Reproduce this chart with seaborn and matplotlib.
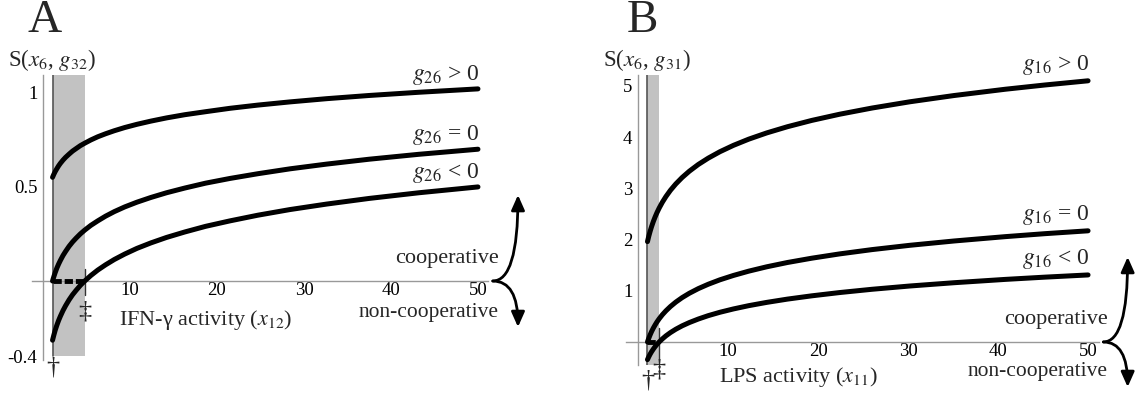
import numpy as np
import pandas as pd
import matplotlib
matplotlib.use("Agg")
import matplotlib.pyplot as plt
import seaborn as sns
from matplotlib.ticker import FixedLocator, FixedFormatter, MultipleLocator

# ---------------- Panel A data ----------------
xA = [1.1, 1.25, 1.4, 1.6, 1.8, 2.0, 2.3, 2.6, 3.0, 3.4, 3.8, 4.3, 4.8, 5.5, 6.3, 7.2,
      8.2, 9.4, 10.8, 12.4, 14.2, 16.3, 18.7, 21.5, 24.7, 28.4, 32.6, 37.5, 43.2, 50]
sA_pos = [0.550, 0.566, 0.580, 0.596, 0.611, 0.624, 0.641, 0.656, 0.673, 0.689, 0.702,
          0.718, 0.731, 0.748, 0.765, 0.781, 0.797, 0.814, 0.831, 0.848, 0.865, 0.882,
          0.898, 0.916, 0.933, 0.950, 0.967, 0.984, 1.001, 1.019]
sA_zero = [0.0, 0.023, 0.044, 0.069, 0.090, 0.109, 0.135, 0.157, 0.184, 0.207, 0.227,
           0.250, 0.270, 0.295, 0.319, 0.344, 0.368, 0.393, 0.418, 0.443, 0.468, 0.493,
           0.519, 0.544, 0.569, 0.595, 0.620, 0.646, 0.672, 0.699]
sA_neg = [-0.314, -0.287, -0.262, -0.234, -0.209, -0.187, -0.157, -0.131, -0.100, -0.073,
          -0.050, -0.023, 0.0, 0.029, 0.058, 0.086, 0.114, 0.143, 0.173, 0.202, 0.231,
          0.260, 0.290, 0.319, 0.349, 0.379, 0.408, 0.438, 0.468, 0.499]
A_series = ["$g_{26}$ > 0", "$g_{26}$ = 0", "$g_{26}$ < 0"]
A_dagger, A_ddagger = 1.1, 4.8
A_yticks = [-0.4, 0.5, 1]
A_yticklabels = ["-0.4", "0.5", "1"]
A_xlabel = "IFN-γ activity ($x_{12}$)"
A_ylabel = "S($x_6$, $g_{32}$)"

# ---------------- Panel B data ----------------
xB = [1.05, 1.2, 1.35, 1.5, 1.7, 1.9, 2.1, 2.35, 2.7, 3.1, 3.6, 4.2, 4.9, 5.7, 6.7, 7.8,
      9.1, 10.6, 12.3, 14.3, 16.6, 19.3, 22.4, 26, 30.2, 35.1, 40.8, 45.2, 50]
sB_pos = [1.960, 2.069, 2.164, 2.250, 2.352, 2.442, 2.524, 2.615, 2.728, 2.840, 2.962,
          3.087, 3.212, 3.335, 3.467, 3.590, 3.716, 3.840, 3.961, 4.083, 4.204, 4.327,
          4.448, 4.569, 4.691, 4.813, 4.936, 5.019, 5.101]
sB_zero = [0.0, 0.075, 0.141, 0.201, 0.271, 0.333, 0.390, 0.453, 0.531, 0.608, 0.692,
           0.779, 0.866, 0.951, 1.042, 1.127, 1.214, 1.299, 1.383, 1.468, 1.552, 1.636,
           1.720, 1.804, 1.888, 1.972, 2.057, 2.115, 2.171]
sB_neg = [-0.345, -0.288, -0.237, -0.192, -0.139, -0.091, -0.048, 0.0, 0.059, 0.119,
          0.183, 0.249, 0.315, 0.379, 0.448, 0.514, 0.580, 0.645, 0.709, 0.773, 0.837,
          0.901, 0.965, 1.029, 1.093, 1.157, 1.222, 1.266, 1.309]
B_series = ["$g_{16}$ > 0", "$g_{16}$ = 0", "$g_{16}$ < 0"]
B_dagger, B_ddagger = 1.05, 2.35
B_yticks = [1, 2, 3, 4, 5]
B_yticklabels = ["1", "2", "3", "4", "5"]
B_xlabel = "LPS activity ($x_{11}$)"
B_ylabel = "S($x_6$, $g_{31}$)"

xticks = [10, 20, 30, 40, 50]
xticklabels = ["10", "20", "30", "40", "50"]

sns.set_style("white")
plt.rcParams["font.family"] = ["Liberation Serif", "DejaVu Serif"]
plt.rcParams["mathtext.fontset"] = "stix"
plt.rcParams["axes.unicode_minus"] = False

fig = plt.figure(figsize=(11.36, 3.94), dpi=100)
axA = fig.add_axes([0.02817, 0.0858, 0.4010, 0.7226])
axB = fig.add_axes([0.5511, 0.0736, 0.4162, 0.7355])

AXC = "#999999"


def panel(ax, x, ys, names, x0, x1, xlim, ylim, shade_bottom, yticks, ytl, yminor,
          xlabel, xlabel_pos, ylabel, ylabel_pos, ddag_line, dag_y, ddag_y,
          coop_y, noncoop_y, arrow_up, arrow_down, label_off):
    df = pd.concat([pd.DataFrame({"x": x, "S": y, "series": n}) for y, n in zip(ys, names)])
    ax.fill_betweenx([shade_bottom, ylim[1]], x0, x1, color="#c2c2c2", lw=0, zorder=0)
    ax.plot([x0, x0], [shade_bottom, ylim[1]], color="#555555", lw=1.2, zorder=1)
    ax.plot([x1, x1], ddag_line, color="#333333", lw=1.0, zorder=1)
    sns.lineplot(data=df, x="x", y="S", hue="series", palette={n: "black" for n in names},
                 estimator=None, sort=False, lw=3.6, legend=False, ax=ax, zorder=3,
                 solid_capstyle="round")
    ax.plot([x0, x1], [0, 0], color="black", lw=3.5, ls=(0, (1.7, 0.6)), zorder=4,
            solid_capstyle="butt")
    ax.set_xlim(*xlim)
    ax.set_ylim(*ylim)
    for s in ["top", "right"]:
        ax.spines[s].set_visible(False)
    ax.spines["left"].set_position(("data", 0))
    ax.spines["bottom"].set_position(("data", 0))
    for s in ["left", "bottom"]:
        ax.spines[s].set_color(AXC)
        ax.spines[s].set_linewidth(1.0)
    ax.xaxis.set_major_locator(FixedLocator(xticks))
    ax.xaxis.set_major_formatter(FixedFormatter(xticklabels))
    ax.xaxis.set_minor_locator(MultipleLocator(2))
    ax.yaxis.set_major_locator(FixedLocator(yticks))
    ax.yaxis.set_major_formatter(FixedFormatter(ytl))
    ax.yaxis.set_minor_locator(MultipleLocator(yminor))
    ax.tick_params(which="major", direction="in", length=4, width=0.8, color=AXC,
                   labelsize=13.5, labelcolor="black")
    ax.tick_params(which="minor", direction="in", length=2.5, width=0.6, color=AXC)
    ax.tick_params(axis="x", pad=1)
    ax.tick_params(axis="y", pad=4)
    ax.set_xlabel("")
    ax.set_ylabel("")
    # curve labels
    for y, n in zip(ys, names):
        ax.annotate(n, xy=(50.2, y[-1]), xytext=(0, label_off), textcoords="offset points",
                    ha="right", va="bottom", fontsize=17, annotation_clip=False)
    ax.text(xlabel_pos[0], xlabel_pos[1], xlabel, ha="left", va="center", fontsize=16)
    ax.text(ylabel_pos[0], ylabel_pos[1], ylabel, ha="left", va="center", fontsize=16.5,
            clip_on=False)
    ax.text(x0, dag_y, "†", ha="center", va="center", fontsize=19)
    ax.text(x1, ddag_y, "‡", ha="center", va="center", fontsize=19)
    ax.text(coop_y[0], coop_y[1], "cooperative", ha="right", va="center", fontsize=16)
    ax.text(noncoop_y[0], noncoop_y[1], "non-cooperative", ha="right", va="center",
            fontsize=15.5)
    ap = dict(arrowstyle="-|>,head_length=0.9,head_width=0.4", color="black", lw=2.0,
              mutation_scale=10, shrinkA=0, shrinkB=0)
    ax.annotate("", xy=arrow_up, xytext=(51.7, 0), annotation_clip=False,
                arrowprops=dict(connectionstyle="angle3,angleA=0,angleB=90", **ap))
    ax.annotate("", xy=arrow_down, xytext=(51.7, 0), annotation_clip=False,
                arrowprops=dict(connectionstyle="angle3,angleA=0,angleB=90", **ap))


panel(axA, xA, [sA_pos, sA_zero, sA_neg], A_series, A_dagger, A_ddagger,
      (-1.26, 51.1), (-0.42, 1.09), -0.4, A_yticks, A_yticklabels, 0.1,
      A_xlabel, (8.7, -0.207), A_ylabel, (-4.0, 1.17), [0.065, -0.075], -0.46, -0.164,
      (52.4, 0.122), (52.4, -0.165), (54.6, 0.456), (54.6, -0.244), 1.5)

panel(axB, xB, [sB_pos, sB_zero, sB_neg], B_series, B_dagger, B_ddagger,
      (-1.33, 51.2), (-0.45, 5.21), -0.45, B_yticks, B_yticklabels, 0.2,
      B_xlabel, (9.0, -0.68), B_ylabel, (-3.9, 5.5), [0.27, -0.45], -0.76, -0.53,
      (52.2, 0.43), (52.2, -0.58), (54.4, 1.66), (54.4, -0.88), 2.5)

fig.text(0.0246, 0.947, "A", fontsize=34, ha="left", va="center")
fig.text(0.552, 0.947, "B", fontsize=34, ha="left", va="center")

fig.savefig("out.png", dpi=100)
